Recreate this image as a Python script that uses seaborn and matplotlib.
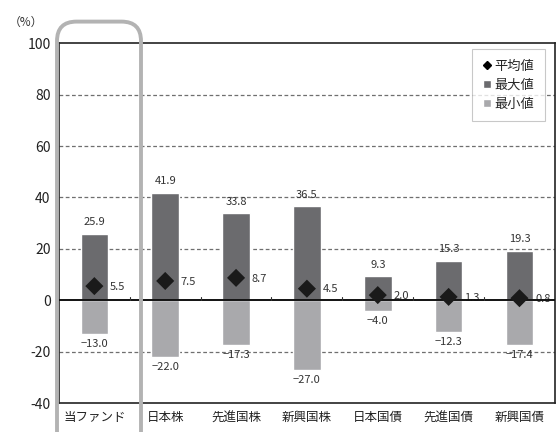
import matplotlib
matplotlib.use("Agg")
import matplotlib.pyplot as plt
from matplotlib.patches import FancyBboxPatch
from matplotlib.lines import Line2D
from matplotlib.patches import Patch
import seaborn as sns
import pandas as pd
import numpy as np

categories = ["当ファンド", "日本株", "先進国株", "新興国株", "日本国債", "先進国債", "新興国債"]
max_vals = [25.9, 41.9, 33.8, 36.5, 9.3, 15.3, 19.3]
min_vals = [-13.0, -22.0, -17.3, -27.0, -4.0, -12.3, -17.4]
mean_vals = [5.5, 7.5, 8.7, 4.5, 2.0, 1.3, 0.8]
y_ticks = [100, 80, 60, 40, 20, 0, -20, -40]

sns.set_theme(style="white")
plt.rcParams["font.family"] = ["Noto Sans CJK JP", "DejaVu Sans"]

df = pd.DataFrame({"cat": categories, "max": max_vals, "min": min_vals, "mean": mean_vals})

fig = plt.figure(figsize=(5.56, 4.32), dpi=100)
ax = fig.add_axes([0.106, 0.067, 0.892, 0.833])

c_max = "#6b6b6e"
c_min = "#a9a9ac"
sns.barplot(data=df, x="cat", y="max", color=c_max, width=0.39, ax=ax, saturation=1)
sns.barplot(data=df, x="cat", y="min", color=c_min, width=0.39, ax=ax, saturation=1)
xpos = np.arange(len(categories))
sns.scatterplot(x=xpos, y=df["mean"], marker="D", color="#1a1a1a", s=85,
                edgecolor="none", ax=ax, zorder=5)

ax.set_xlim(-0.5, len(categories) - 0.5)
ax.set_ylim(-40, 100)
ax.set_yticks(y_ticks)
ax.set_yticklabels([str(t) for t in y_ticks], fontsize=10, color="#222222")
ax.set_xticks(xpos)
ax.set_xticklabels(categories, fontsize=9, color="#222222")
ax.tick_params(axis="x", length=0, pad=6)
ax.tick_params(axis="y", length=0, pad=6)
ax.set_xlabel("")
ax.set_ylabel("")

for t in [80, 60, 40, 20, -20]:
    ax.axhline(t, color="#6f6f6f", lw=0.9, ls=(0, (3, 2)), zorder=0)
ax.axhline(0, color="#111111", lw=1.4, zorder=4)
for b in xpos[:-1] + 0.5:
    ax.plot([b, b], [0, 1.2], color="#333333", lw=0.8, zorder=4)

for s in ax.spines.values():
    s.set_color("#222222")
    s.set_linewidth(1.2)

for i in range(len(categories)):
    ax.text(xpos[i], max_vals[i] + 2.5, f"{max_vals[i]:.1f}", ha="center", va="bottom",
            fontsize=8, color="#333333")
    ax.text(xpos[i], min_vals[i] - 2.0, f"{min_vals[i]:.1f}".replace("-", "−"), ha="center",
            va="top", fontsize=8, color="#333333")
    ax.text(xpos[i] + 0.33, mean_vals[i] - 0.3, f"{mean_vals[i]:.1f}", ha="center",
            va="center", fontsize=8, color="#333333")

fig.text(0.015, 0.948, "（%）", fontsize=8.5, color="#333333", ha="left", va="center")

box = FancyBboxPatch((57 / 556, -0.1), 84 / 556, 1.05,
                     boxstyle="round,pad=0,rounding_size=0.035",
                     transform=fig.transFigure, fill=False, edgecolor="#b3b3b3",
                     lw=2.8, zorder=10, mutation_aspect=556 / 432)
fig.patches.append(box)

handles = [
    Line2D([], [], marker="D", color="black", ls="none", markersize=4),
    Patch(facecolor=c_max),
    Patch(facecolor=c_min),
]
leg = ax.legend(handles, ["平均値", "最大値", "最小値"], loc="upper right",
                bbox_to_anchor=(0.98, 0.983), fontsize=9.5, frameon=True, fancybox=False,
                handlelength=0.6, handleheight=0.6, handletextpad=0.3, borderpad=0.8,
                labelspacing=0.45, borderaxespad=0)
leg.get_frame().set_edgecolor("#bbbbbb")
leg.get_frame().set_linewidth(0.8)

fig.savefig("out.png", dpi=100)
